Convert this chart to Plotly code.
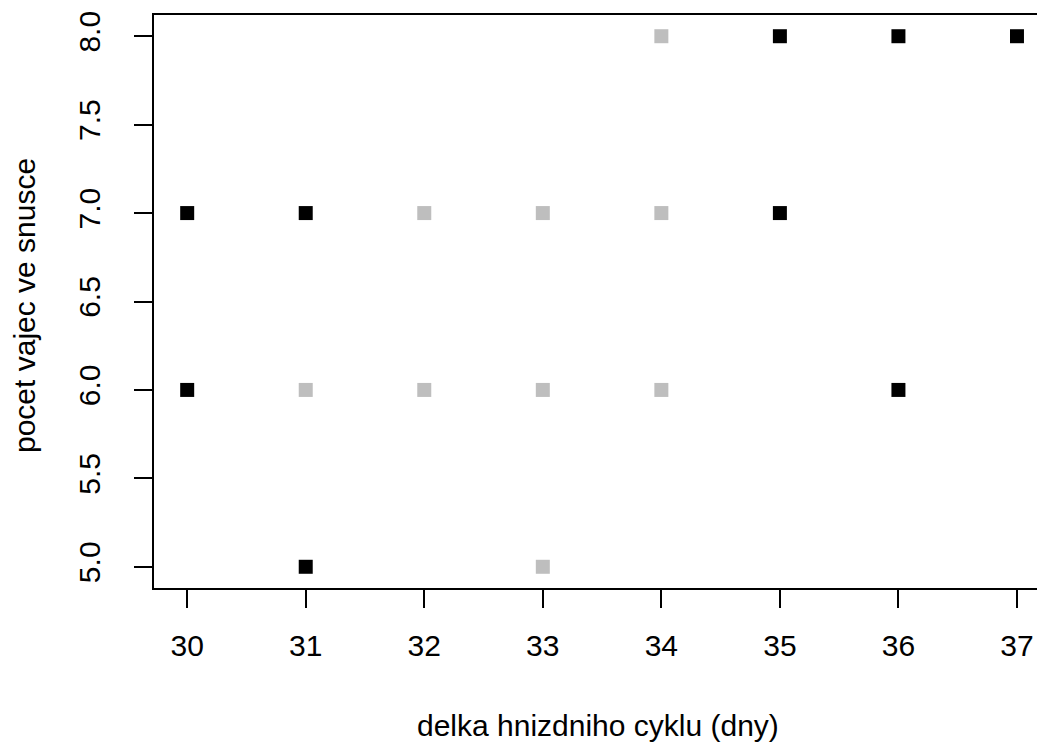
import plotly.graph_objects as go

black_x = [30, 30, 31, 31, 35, 35, 36, 36, 37]
black_y = [7, 6, 7, 5, 8, 7, 8, 6, 8]
gray_x = [31, 32, 32, 33, 33, 33, 34, 34, 34]
gray_y = [6, 7, 6, 7, 6, 5, 8, 7, 6]
x_ticks = [30, 31, 32, 33, 34, 35, 36, 37]
y_ticks = [5.0, 5.5, 6.0, 6.5, 7.0, 7.5, 8.0]

FONT = "Liberation Sans, Arial, sans-serif"

fig = go.Figure()
fig.add_trace(go.Scatter(x=gray_x, y=gray_y, mode="markers",
                         marker=dict(symbol="square", size=14, color="#BEBEBE",
                                     line=dict(width=0)), cliponaxis=False))
fig.add_trace(go.Scatter(x=black_x, y=black_y, mode="markers",
                         marker=dict(symbol="square", size=14, color="#000000",
                                     line=dict(width=0)), cliponaxis=False))

W, H = 1037, 743
L, T, R, B = 154, 15, 0, 155
pw = W - L - R
ph = H - T - B

fig.update_layout(
    width=W, height=H,
    margin=dict(l=L, r=R, t=T, b=B),
    plot_bgcolor="white", paper_bgcolor="white",
    showlegend=False,
    font=dict(family=FONT, size=30, color="#000000"),
    xaxis=dict(range=[29.72, 37.169], tickmode="array", tickvals=x_ticks,
               ticktext=[str(v) for v in x_ticks],
               showgrid=False, zeroline=False, showline=True, linecolor="#000000",
               linewidth=2, mirror=True, ticks="outside", ticklen=18, tickwidth=2,
               tickcolor="#000000", ticklabelstandoff=12,
               tickfont=dict(size=30)),
    yaxis=dict(range=[4.88, 8.12], tickmode="array", tickvals=y_ticks,
               ticktext=["%.1f" % v for v in y_ticks], tickangle=-90,
               showgrid=False, zeroline=False, showline=True, linecolor="#000000",
               linewidth=2, mirror=False, ticks="outside", ticklen=18, tickwidth=2,
               tickcolor="#000000", ticklabelstandoff=22,
               tickfont=dict(size=30)),
    annotations=[
        dict(text="delka hnizdniho cyklu (dny)", xref="paper", yref="paper",
             x=(598 - L) / pw, y=(T + ph - 725) / ph, showarrow=False,
             xanchor="center", yanchor="middle", font=dict(size=30)),
        dict(text="pocet vajec ve snusce", xref="paper", yref="paper",
             x=(24 - L) / pw, y=(T + ph - 306) / ph, showarrow=False, textangle=-90,
             xanchor="center", yanchor="middle", font=dict(size=30)),
    ],
)
fig.write_html("out.html")
